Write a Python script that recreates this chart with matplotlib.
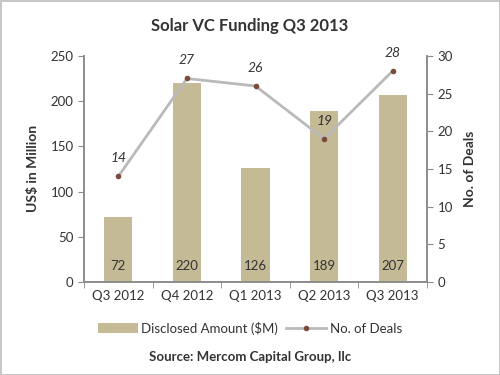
import matplotlib.pyplot as plt
import numpy as np

quarters = ['Q3 2012', 'Q4 2012', 'Q1 2013', 'Q2 2013', 'Q3 2013']
amount = [72, 220, 126, 189, 207]
deals = [14, 27, 26, 19, 28]

plt.rcParams['font.family'] = ['Lato', 'DejaVu Sans']
bar_col = '#c4bb96'
axis_col = '#8c8c8c'
text_col = '#333333'

fig = plt.figure(figsize=(5, 3.75), dpi=100)
fig.patch.set_edgecolor('#c8c8c8')
fig.patch.set_linewidth(2)
ax = fig.add_axes([0.168, 0.248, 0.686, 0.603])
ax2 = ax.twinx()

x = np.arange(len(quarters))
bars = ax.bar(x, amount, width=0.41, color=bar_col, label='Disclosed Amount ($M)', zorder=2)
for xi, v in zip(x, amount):
    ax.text(xi, 18, str(v), ha='center', va='center', fontsize=9.5, color=text_col)

ax.set_xlim(-0.5, 4.5)
ax.set_ylim(0, 250)
ax.set_yticks(np.arange(0, 251, 50))
ax.set_xticks(x)
ax.set_xticklabels(quarters, fontsize=9.5, color=text_col)
ax.set_xticks(np.arange(-0.5, 5, 1), minor=True)
ax.tick_params(axis='x', which='major', length=0, pad=6)
ax.tick_params(axis='x', which='minor', length=4, color=axis_col)
ax.tick_params(axis='y', length=4, color=axis_col, labelsize=9.5, labelcolor=text_col)
ax.set_ylabel('US$ in Million', fontsize=10, fontweight='bold', color=text_col, labelpad=8)

ax2.set_ylim(0, 30)
ax2.set_yticks(np.arange(0, 31, 5))
ax2.tick_params(axis='y', length=4, color=axis_col, labelsize=9.5, labelcolor=text_col)
line, = ax2.plot(x, deals, color='#bababa', lw=2, marker='o', markersize=3,
                 markerfacecolor='#7a4a3a', markeredgecolor='#7a4a3a', label='No. of Deals', zorder=3)
for xi, v in zip(x, deals):
    ax2.text(xi, v + 2.4, str(v), ha='center', va='center', fontsize=10, style='italic', color=text_col)
ax2.set_ylabel('No. of Deals', fontsize=10, fontweight='bold', color=text_col, labelpad=8)

for a in (ax, ax2):
    a.spines['top'].set_visible(False)
    for s in ('left', 'right', 'bottom'):
        a.spines[s].set_color(axis_col)
        a.spines[s].set_linewidth(1.2)

fig.text(0.5, 0.93, 'Solar VC Funding Q3 2013', ha='center', va='center', fontsize=12,
         fontweight='bold', color=text_col)
fig.legend(handles=[bars, line], loc='center', bbox_to_anchor=(0.5, 0.125), ncol=2, frameon=False,
           fontsize=9.5, handlelength=3, columnspacing=0.6, handletextpad=0.3, labelcolor=text_col)
fig.text(0.5, 0.048, 'Source: Mercom Capital Group, llc', ha='center', va='center', fontsize=9.5,
         fontweight='bold', color=text_col)

fig.savefig('out.png', dpi=100, edgecolor=fig.get_edgecolor())
